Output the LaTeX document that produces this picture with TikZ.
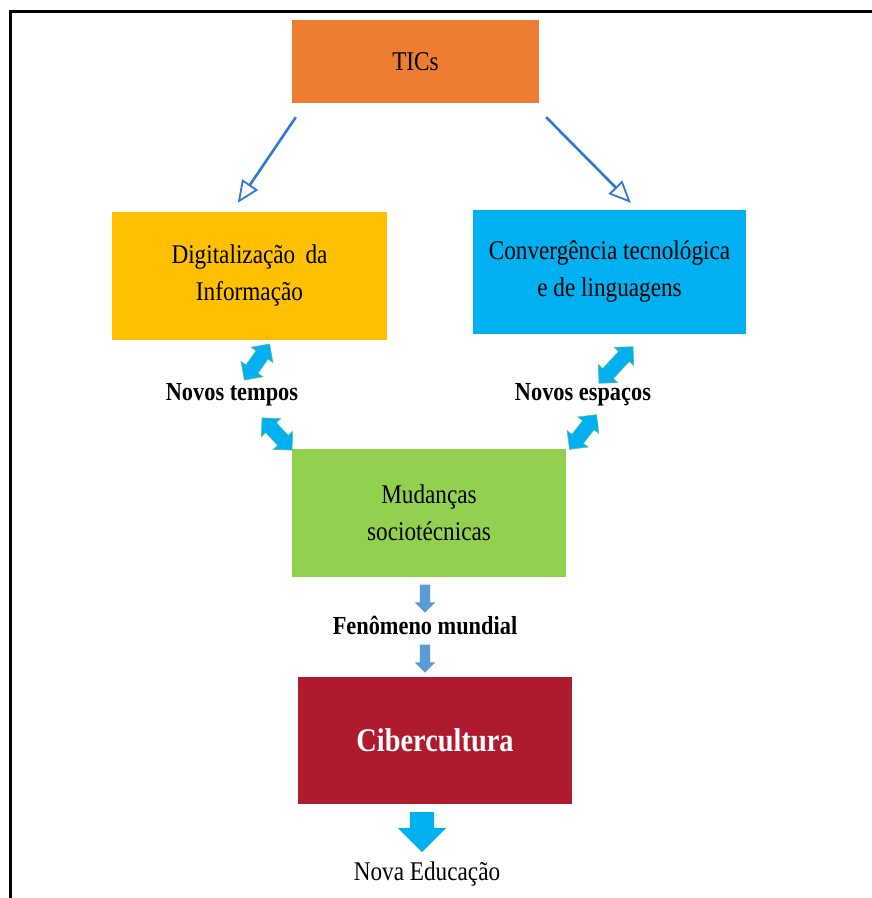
\documentclass[tikz,border=0pt]{standalone}
\usepackage{fontspec}
\setmainfont[FakeStretch=0.86]{Liberation Serif}
\usetikzlibrary{arrows.meta,shapes.arrows}
\definecolor{ticorange}{HTML}{ED7D31}
\definecolor{diggold}{HTML}{FFC000}
\definecolor{convblue}{HTML}{00B0F0}
\definecolor{mudgreen}{HTML}{92D050}
\definecolor{cibred}{HTML}{B01A2E}
\definecolor{linkblue}{HTML}{2F7AD6}
\definecolor{fenblue}{HTML}{5B9BD5}
\tikzset{
  box/.style={inner sep=0pt, align=center, font=\fontsize{27}{37}\selectfont},
  tiklink/.style={draw=linkblue, line width=2.6pt, -{Triangle[open, length=22pt, width=19pt, line width=1.8pt]}},
  twoway/.style={double arrow, fill=convblue, draw=mudgreen!60!convblue, line width=0.6pt,
    minimum width=26pt, minimum height=44pt, double arrow head extend=6pt,
    inner xsep=0pt, inner ysep=7pt},
  downstep/.style={single arrow, fill=fenblue, rotate=-90,
    minimum width=20pt, minimum height=28pt, single arrow head extend=5pt,
    inner xsep=0pt, inner ysep=5pt},
  tag/.style={font=\bfseries\fontsize{26}{30}\selectfont}
}
\begin{document}
\begin{tikzpicture}[x=1pt,y=-1pt]
  \useasboundingbox (0,0) rectangle (872,898);
  \fill[white] (0,0) rectangle (872,898);
  \draw[line width=3pt] (872,11) -- (10,11) -- (10,898);

  \node[box, fill=ticorange, minimum width=247pt, minimum height=83pt] (tics) at (415.5,61.5) {TICs};
  \node[box, fill=diggold, minimum width=275pt, minimum height=128pt] (dig) at (249.5,276) {Digitalização\, da\\Informação};
  \node[box, fill=convblue, minimum width=273pt, minimum height=124pt] (conv) at (609.5,272) {Convergência tecnológica\\e de linguagens};
  \node[box, fill=mudgreen, minimum width=274pt, minimum height=128pt] (mud) at (429,513) {Mudanças\\sociotécnicas};
  \node[box, fill=cibred, text=white, minimum width=274pt, minimum height=127pt,
    font=\bfseries\fontsize{33}{38}\selectfont] (ciber) at (435,740.5) {Cibercultura};

  \draw[tiklink] ([xshift=4pt,yshift=-14pt]tics.south west) -- ([xshift=126pt,yshift=9pt]dig.north west);
  \draw[tiklink] ([xshift=7pt,yshift=-14pt]tics.south east) -- ([xshift=158pt,yshift=7pt]conv.north west);

  \node[tag] (tempos) at (232,395) {Novos tempos};
  \node[tag] (espacos) at (583,395) {Novos espaços};
  \node[twoway, rotate=55] (tup) at (257,362) {};
  \node[twoway, rotate=-47] (tdown) at (277,434) {};
  \node[twoway, rotate=47, minimum height=50pt] (eup) at (616,365) {};
  \node[twoway, rotate=52] (edown) at (583,432) {};

  \node[downstep] (fup) at (425,596) {};
  \node[tag] (fen) at (425,625) {Fenômeno mundial};
  \node[downstep] (fdown) at (425,656) {};

  \node[single arrow, fill=convblue, rotate=-90, minimum width=48pt,
    minimum height=40pt, single arrow head extend=12pt, inner xsep=0pt, inner ysep=12pt] (out) at (422,826) {};
  \node[font=\fontsize{27}{32}\selectfont] (nova) at (427,874) {Nova Educação};
\end{tikzpicture}
\end{document}
